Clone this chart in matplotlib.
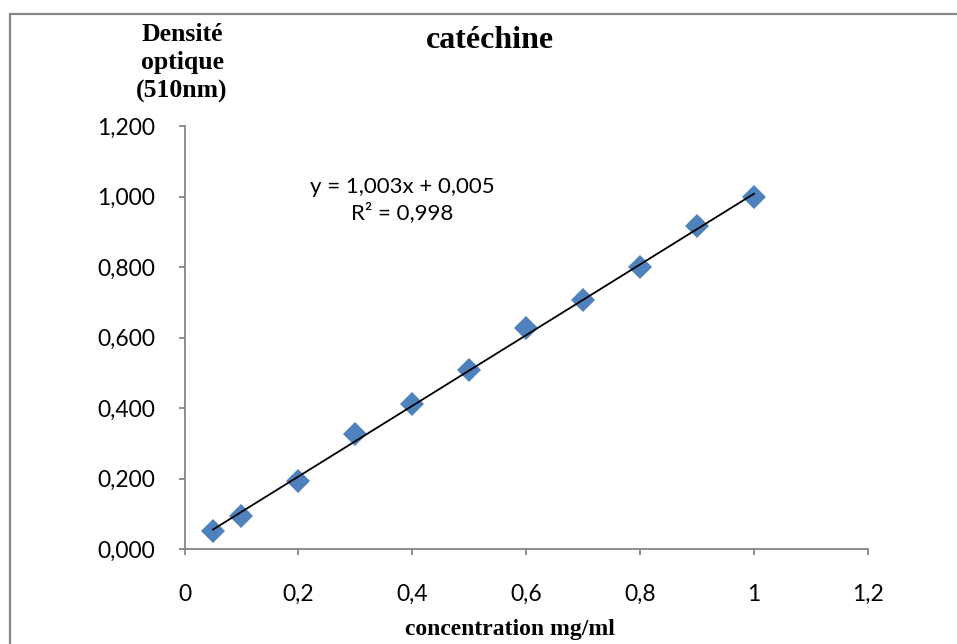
import matplotlib.pyplot as plt
from matplotlib.patches import Rectangle
from matplotlib.ticker import FuncFormatter
import numpy as np

# Data
concentration = [0.05, 0.1, 0.2, 0.3, 0.4, 0.5, 0.6, 0.7, 0.8, 0.9, 1.0]
absorbance = [0.052, 0.095, 0.193, 0.325, 0.411, 0.507, 0.627, 0.705, 0.801, 0.917, 0.998]
slope = 1.003
intercept = 0.005
r2 = 0.998

x_ticks = [0, 0.2, 0.4, 0.6, 0.8, 1.0, 1.2]
y_ticks = [0, 0.2, 0.4, 0.6, 0.8, 1.0, 1.2]

# Fonts
sans = ['Lato', 'DejaVu Sans']
serif = ['Liberation Serif', 'DejaVu Serif']
grey = '#868686'

fig = plt.figure(figsize=(9.57, 6.44), dpi=100)
W, H = 957, 644
ax = fig.add_axes([184.5 / W, 1 - 549 / H, (868 - 184.5) / W, (549 - 126) / H])

# Scatter points
ax.plot(concentration, absorbance, linestyle='none', marker='D', markersize=12.5,
        color='#4F81BD', markeredgewidth=0, zorder=2)

# Linear trendline
xfit = np.array([concentration[0], concentration[-1]])
ax.plot(xfit, slope * xfit + intercept, color='black', linewidth=1.3, zorder=3)

ax.set_xlim(0, 1.2)
ax.set_ylim(0, 1.2)
ax.set_xticks(x_ticks)
ax.set_yticks(y_ticks)
ax.xaxis.set_major_formatter(FuncFormatter(lambda v, p: ('%g' % round(v, 1)).replace('.', ',')))
ax.yaxis.set_major_formatter(FuncFormatter(lambda v, p: ('%.3f' % v).replace('.', ',')))

for side in ['top', 'right']:
    ax.spines[side].set_visible(False)
for side in ['left', 'bottom']:
    ax.spines[side].set_color(grey)
    ax.spines[side].set_linewidth(1.3)

ax.tick_params(axis='both', direction='out', length=4, width=1.3, color=grey,
               labelsize=16.5, labelcolor='black')
ax.tick_params(axis='y', pad=17)
ax.tick_params(axis='x', pad=21)
for lbl in ax.get_xticklabels() + ax.get_yticklabels():
    lbl.set_family(sans)

# Equation
ax.text(0.382, 0.99, 'y = 1,003x + 0,005\nR² = 0,998', ha='center', va='center',
        fontsize=16, family=sans, linespacing=1.3)

# Titles
fig.text(490 / W, 1 - 40 / H, 'catéchine', ha='center', va='center',
         fontsize=23, fontweight='bold', family=serif)
fig.text(182 / W, 1 - 63 / H, 'Densité\noptique\n(510nm)', ha='center', va='center',
         fontsize=18.5, fontweight='bold', family=serif, linespacing=1.3)
fig.text(510 / W, 1 - 630 / H, 'concentration mg/ml', ha='center', va='center',
         fontsize=17, fontweight='bold', family=serif)

# Frame around the chart
fig.patches.append(Rectangle((10 / W, -0.1), 1.2, 1 - 14 / H + 0.1, transform=fig.transFigure,
                             fill=False, edgecolor=grey, linewidth=1.6))

fig.savefig('out.png', dpi=100)
